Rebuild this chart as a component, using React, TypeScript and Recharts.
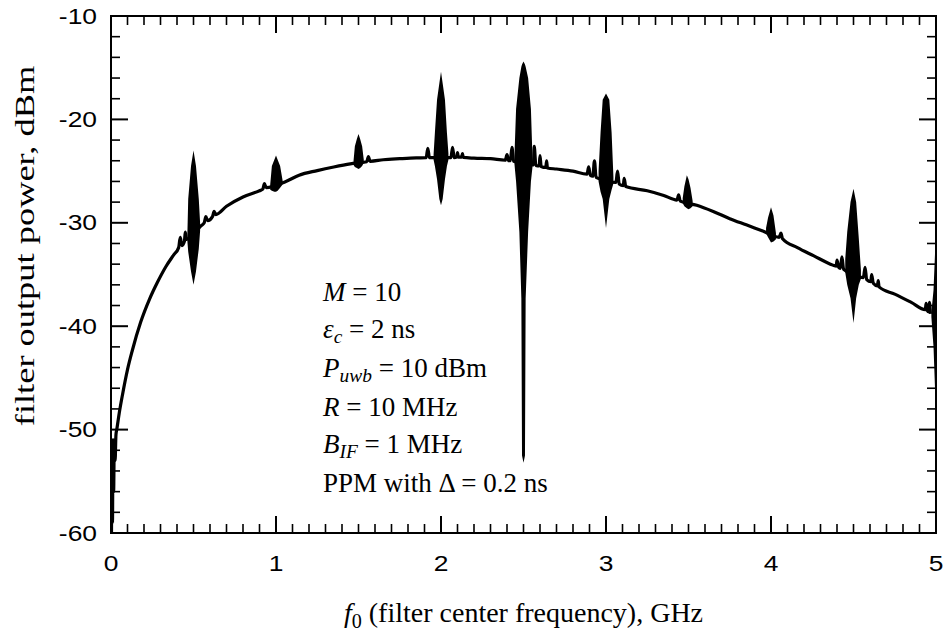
import React from "react";
import { ComposedChart, Line, Area, XAxis, YAxis } from "recharts";

// smooth filter response, including the small ripples next to the spikes
const traceGhz = [
  0.003, 0.006, 0.009, 0.012, 0.016, 0.02, 0.025, 0.03, 0.035, 0.05, 0.07, 0.1,
  0.13, 0.18, 0.233, 0.28, 0.334, 0.38, 0.41, 0.42, 0.43, 0.445, 0.45, 0.458,
  0.545, 0.565, 0.575, 0.585, 0.615, 0.625, 0.635, 0.7, 0.8, 0.9, 0.92, 0.93,
  0.94, 1.06, 1.14, 1.25, 1.35, 1.45, 1.55, 1.56, 1.57, 1.65, 1.75, 1.85, 1.91,
  1.92, 1.93, 2.06, 2.07, 2.08, 2.095, 2.1, 2.105, 2.125, 2.13, 2.135, 2.2, 2.3,
  2.39, 2.4, 2.41, 2.42, 2.43, 2.44, 2.56, 2.565, 2.575, 2.595, 2.6, 2.607,
  2.635, 2.64, 2.645, 2.7, 2.8, 2.885, 2.895, 2.905, 2.92, 2.93, 2.94, 3.06,
  3.07, 3.08, 3.105, 3.11, 3.12, 3.25, 3.35, 3.43, 3.44, 3.45, 3.55, 3.65, 3.75,
  3.85, 3.95, 4.05, 4.06, 4.07, 4.16, 4.26, 4.36, 4.395, 4.4, 4.41, 4.42, 4.43,
  4.44, 4.56, 4.57, 4.58, 4.605, 4.61, 4.62, 4.645, 4.65, 4.655, 4.75, 4.85,
  4.935, 4.94, 4.948, 4.955, 4.96, 4.966,
];
const traceDbm = [
  -60, -52, -59, -51, -56, -51, -53, -50.5, -50, -48.4, -46.6, -44.2,
  -42.3, -39.6, -37.4, -35.8, -34.2, -33.1, -32.4, -31.4, -32.2, -31.8, -30.9, -31.6,
  -30.3, -30.0, -29.4, -29.8, -29.4, -28.9, -29.2, -28.4, -27.5, -26.9, -26.75, -26.2,
  -26.6, -26.0, -25.4, -24.95, -24.6, -24.3, -24.1, -23.6, -24.05, -23.9, -23.8, -23.72, -23.7,
  -22.8, -23.7, -23.7, -22.7, -23.7, -23.65, -23.2, -23.65, -23.65, -23.3, -23.68, -23.75, -23.8,
  -23.95, -23.4, -24.0, -24.0, -22.7, -24.05, -24.4, -22.6, -24.45, -24.5, -23.5, -24.55,
  -24.65, -24.0, -24.7, -24.8, -25.0, -25.3, -24.6, -25.4, -25.5, -24.0, -25.6, -26.1,
  -25.0, -26.25, -26.4, -25.7, -26.5, -26.9, -27.35, -27.8, -27.3, -27.9, -28.3, -28.9, -29.6,
  -30.2, -30.8, -31.4, -31.0, -31.55, -32.4, -33.2, -34.0, -34.2, -33.6, -34.3, -34.4, -33.3,
  -34.5, -35.3, -34.3, -35.5, -35.7, -35.0, -35.85, -36.1, -35.6, -36.2, -36.9, -37.7,
  -38.4, -37.8, -38.5, -38.6, -37.7, -38.8,
];

// spike envelopes: [GHz, lower dBm, upper dBm]
const spike05 = [
  [0.463, -31.8, -31.0], [0.468, -32.8, -27.7], [0.485, -34.7, -24.5], [0.5, -36.0, -23.0],
  [0.515, -34.7, -24.5], [0.532, -32.5, -27.7], [0.54, -30.8, -30.0],
];
const spike10 = [
  [0.965, -26.8, -26.3], [0.975, -26.9, -24.5], [0.99, -27.0, -23.9], [1.0, -27.0, -23.5],
  [1.01, -26.9, -23.9], [1.025, -26.6, -24.5], [1.04, -26.3, -25.9],
];
const spike15 = [
  [1.47, -24.4, -24.0], [1.478, -24.6, -22.6], [1.49, -24.7, -21.9], [1.5, -24.8, -21.4],
  [1.51, -24.7, -21.9], [1.522, -24.5, -22.6], [1.532, -24.2, -23.9],
];
const spike20 = [
  [1.955, -23.9, -23.4], [1.963, -24.5, -21.3], [1.976, -25.8, -18.1], [1.99, -27.7, -16.5],
  [2.0, -28.3, -15.4], [2.01, -27.7, -16.5], [2.024, -25.8, -18.1], [2.036, -24.5, -21.3],
  [2.045, -23.9, -23.3],
];
const spike25 = [
  [2.445, -24.3, -23.6], [2.455, -26.0, -19.0], [2.475, -30.9, -16.0], [2.487, -37.3, -14.9],
  [2.491, -52.5, -14.7], [2.5, -53.2, -14.4], [2.509, -52.5, -14.7], [2.513, -37.3, -14.9],
  [2.528, -30.9, -16.0], [2.545, -26.0, -19.0], [2.555, -24.5, -24.0],
];
const spike30 = [
  [2.955, -26.0, -25.0], [2.967, -27.0, -21.3], [2.98, -27.7, -18.1], [3.0, -30.5, -17.5],
  [3.02, -27.7, -18.1], [3.034, -26.8, -21.3], [3.045, -26.2, -25.6],
];
const spike35 = [
  [3.465, -28.1, -27.6], [3.475, -28.4, -26.5], [3.49, -28.6, -25.4], [3.5, -28.7, -25.8],
  [3.512, -28.6, -26.6], [3.525, -28.4, -27.9],
];
const spike40 = [
  [3.97, -31.0, -30.5], [3.982, -31.4, -29.5], [4.0, -31.9, -28.5], [4.015, -31.8, -29.3],
  [4.03, -31.6, -31.0],
];
const spike45 = [
  [4.45, -34.8, -33.5], [4.462, -36.0, -30.9], [4.482, -37.3, -28.0], [4.5, -39.7, -26.7],
  [4.516, -37.3, -28.0], [4.532, -36.0, -31.5], [4.545, -35.4, -34.6],
];
const spike50 = [
  [4.972, -39.1, -38.7], [4.985, -42.0, -36.5], [4.994, -46.0, -33.0], [5.0, -47.5, -29.6],
];

const xMajor = [0, 1, 2, 3, 4, 5];
const yMajor = [-60, -50, -40, -30, -20, -10];

const xTicks = Array.from({ length: 51 }, (_, i) => i / 10);
const yTicks = Array.from({ length: 26 }, (_, i) => -60 + i * 2);

const spikes = [spike05, spike10, spike15, spike20, spike25, spike30, spike35, spike40, spike45, spike50];

const rows = [
  ...traceGhz.map((f, i) => ({ f, trace: traceDbm[i] })),
  ...spikes.flat().map(([f, lo, hi]) => ({ f, band: [lo, hi] })),
].sort((a, b) => a.f - b.f);

const tickFont = '"Liberation Sans", Arial, sans-serif';
const serif = '"Liberation Serif", "Times New Roman", serif';

// tick labels in the source are drawn a little wide
const labelStretch = 1.2;

const XTick = ({ x, y, payload, side }: any) => {
  const v = payload.value;
  const major = xMajor.includes(v);
  const len = major ? 17 : 9;
  const dir = side === "bottom" ? -1 : 1;
  return (
    <g>
      <line x1={x} x2={x} y1={y} y2={y + dir * len} stroke="#000" strokeWidth={major ? 2 : 1.6} />
      {side === "bottom" && major && (
        <text transform={`translate(${x},${y + 30}) scale(${labelStretch},1)`} textAnchor="middle"
          dominantBaseline="central" fontFamily={tickFont} fontSize={22} fill="#000">{v}</text>
      )}
    </g>
  );
};

const YTick = ({ x, y, payload, side }: any) => {
  const v = payload.value;
  const major = yMajor.includes(v);
  const len = major ? 17 : 9;
  const dir = side === "left" ? 1 : -1;
  return (
    <g>
      <line x1={x} x2={x + dir * len} y1={y} y2={y} stroke="#000" strokeWidth={major ? 2 : 1.6} />
      {side === "left" && major && (
        <text transform={`translate(${x - 14},${y}) scale(${labelStretch},1)`} textAnchor="end"
          dominantBaseline="central" fontFamily={tickFont} fontSize={22} fill="#000">{v}</text>
      )}
    </g>
  );
};

const Sub = ({ children }: any) => (
  <span style={{ fontSize: "0.72em", position: "relative", top: "0.28em" }}>{children}</span>
);

const axisLine = { stroke: "#000", strokeWidth: 2, strokeLinecap: "square" as const };

export default function App() {
  return (
    <div style={{ position: "absolute", left: 0, top: 0, width: 944, height: 632, background: "#fff", overflow: "hidden" }}>
      <ComposedChart width={944} height={632} data={rows} margin={{ top: 15, right: 7, bottom: 98, left: 110 }}>
        <XAxis xAxisId="b" dataKey="f" type="number" orientation="bottom" height={1} domain={[0, 5]}
          allowDataOverflow ticks={xTicks} interval={0} tickLine={false} tickSize={0} tickMargin={0}
          axisLine={axisLine} tick={(p: any) => <XTick {...p} side="bottom" />} />
        <XAxis xAxisId="t" dataKey="f" type="number" orientation="top" height={1} domain={[0, 5]}
          allowDataOverflow ticks={xTicks} interval={0} tickLine={false} tickSize={0} tickMargin={0}
          axisLine={axisLine} tick={(p: any) => <XTick {...p} side="top" />} />
        <YAxis yAxisId="l" type="number" orientation="left" width={1} domain={[-60, -10]}
          allowDataOverflow ticks={yTicks} interval={0} tickLine={false} tickSize={0} tickMargin={0}
          axisLine={axisLine} tick={(p: any) => <YTick {...p} side="left" />} />
        <YAxis yAxisId="r" type="number" orientation="right" width={1} domain={[-60, -10]}
          allowDataOverflow ticks={yTicks} interval={0} tickLine={false} tickSize={0} tickMargin={0}
          axisLine={axisLine} tick={(p: any) => <YTick {...p} side="right" />} />
        <Area xAxisId="b" yAxisId="l" dataKey="band" type="linear" stroke="none" fill="#000"
          fillOpacity={1} isAnimationActive={false} />
        <Line xAxisId="b" yAxisId="l" dataKey="trace" type="monotone" stroke="#000" strokeWidth={3.2}
          dot={false} connectNulls isAnimationActive={false} />
      </ComposedChart>

      <div style={{ position: "absolute", left: 25 - 200, top: 246 - 14, width: 400, height: 28,
        lineHeight: "28px", textAlign: "center", transform: "rotate(-90deg) scaleX(1.3)",
        fontFamily: serif, fontSize: 28, whiteSpace: "nowrap" }}>
        filter output power, dBm
      </div>

      <div style={{ position: "absolute", left: 111, top: 599, width: 825, lineHeight: "28px",
        textAlign: "center", fontFamily: serif, fontSize: 28, whiteSpace: "nowrap" }}>
        <i>f</i><Sub>0</Sub> (filter center frequency), GHz
      </div>

      <div style={{ position: "absolute", left: 323, top: 274, fontFamily: serif, fontSize: 27,
        lineHeight: "37px", whiteSpace: "nowrap" }}>
        <div><i>M</i> = 10</div>
        <div><i>ε<Sub>c</Sub></i> = 2 ns</div>
        <div><i>P<Sub>uwb</Sub></i> = 10 dBm</div>
        <div><i>R</i> = 10 MHz</div>
        <div><i>B<Sub>IF</Sub></i> = 1 MHz</div>
        <div>PPM with Δ = 0.2 ns</div>
      </div>
    </div>
  );
}
